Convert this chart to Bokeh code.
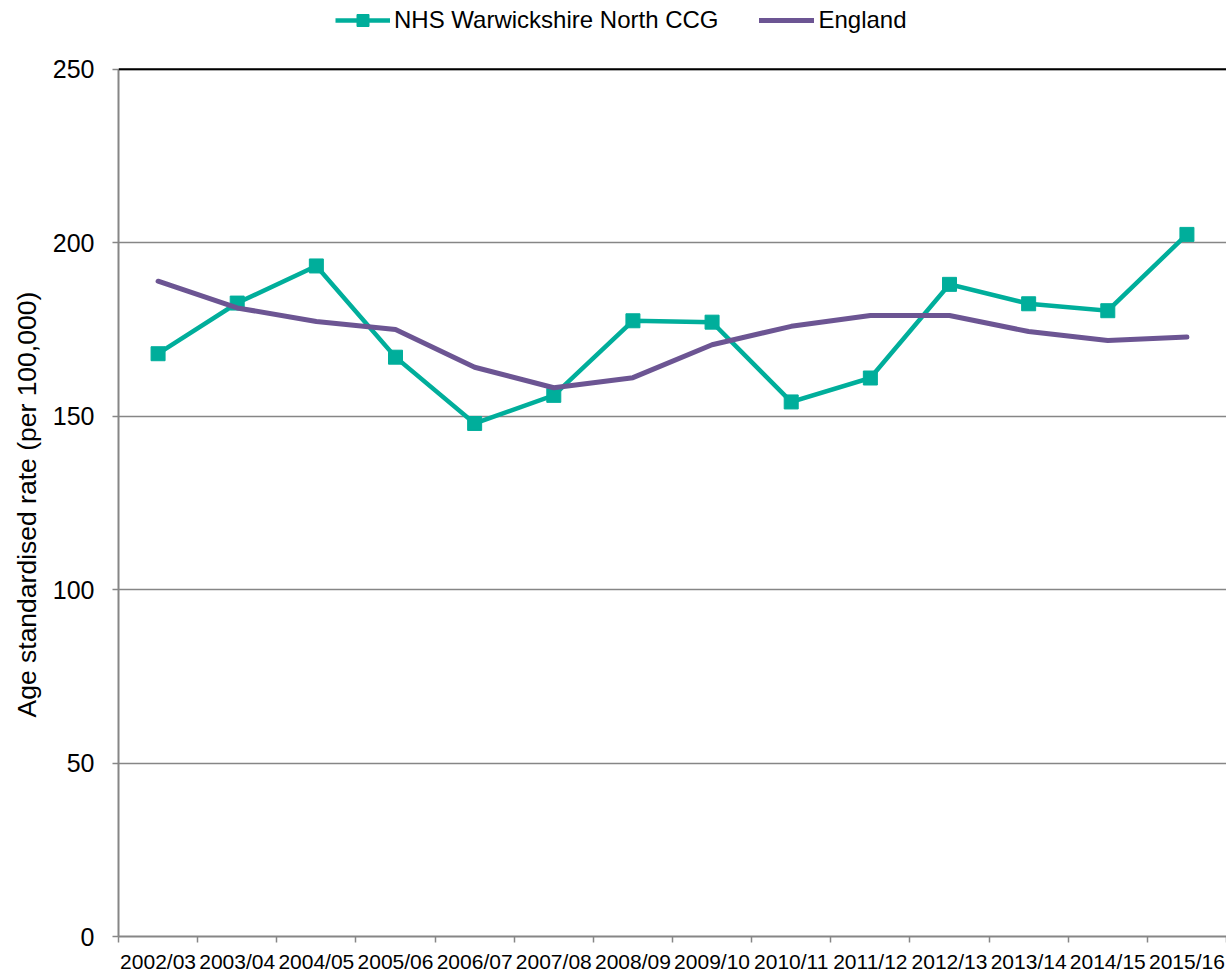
from bokeh.plotting import figure
from bokeh.models import Range1d, FixedTicker, Legend, LegendItem, Span, Title
from bokeh.embed import file_html
from bokeh.resources import INLINE

categories = ["2002/03", "2003/04", "2004/05", "2005/06", "2006/07", "2007/08", "2008/09",
              "2009/10", "2010/11", "2011/12", "2012/13", "2013/14", "2014/15", "2015/16"]
ccg = [168.0, 182.6, 193.3, 167.0, 147.9, 156.0, 177.5, 177.1, 154.1, 161.0, 188.0, 182.4, 180.4, 202.4]
england = [188.9, 181.2, 177.3, 175.0, 164.1, 158.2, 161.1, 170.6, 175.9, 179.0, 179.0, 174.4, 171.8, 172.8]
y_ticks = [0, 50, 100, 150, 200, 250]
y_title = "Age standardised rate (per 100,000)"

FONT = "Liberation Sans"
TEAL = "#00AE9B"
PURPLE = "#6C5593"
GRID = "#868686"

W, H = 1226, 975
TOP_PX, BOTTOM_PX = 69, 939  # screen rows of 250 and 0
n = len(categories)
xs = [i + 0.5 for i in range(n)]
y_max = 250.0 * BOTTOM_PX / (BOTTOM_PX - TOP_PX)  # frame extends to page top so legend fits

p = figure(width=W, height=H, output_backend="svg", toolbar_location=None,
           x_range=Range1d(0, n), y_range=Range1d(0, y_max),
           min_border_left=118, min_border_right=0, min_border_top=0, min_border_bottom=H - BOTTOM_PX)
p.outline_line_color = None
p.background_fill_color = "white"
p.border_fill_color = "white"

# grid
p.xgrid.visible = False
p.ygrid.ticker = FixedTicker(ticks=y_ticks)
p.ygrid.grid_line_color = GRID
p.ygrid.grid_line_width = 1.5

# x axis
xa = p.xaxis[0]
xa.ticker = FixedTicker(ticks=xs, minor_ticks=list(range(n + 1)))
xa.major_label_overrides = {x: c for x, c in zip(xs, categories)}
xa.major_tick_line_color = None
xa.major_tick_out = 0
xa.major_tick_in = 0
xa.minor_tick_line_color = GRID
xa.minor_tick_line_width = 1.5
xa.minor_tick_out = 6
xa.minor_tick_in = 0
xa.axis_line_color = GRID
xa.axis_line_width = 2
xa.major_label_text_font = FONT
xa.major_label_text_font_size = "21px"
xa.major_label_text_color = "black"
xa.major_label_standoff = 7

# y axis
ya = p.yaxis[0]
ya.ticker = FixedTicker(ticks=y_ticks)
ya.bounds = (0, 250)
ya.minor_tick_line_color = None
ya.major_tick_line_color = GRID
ya.major_tick_line_width = 1.5
ya.major_tick_out = 6
ya.major_tick_in = 0
ya.axis_line_color = GRID
ya.axis_line_width = 2
ya.major_label_text_font = FONT
ya.major_label_text_font_size = "25px"
ya.major_label_text_color = "black"
ya.major_label_standoff = 18

# y-axis title (centred on the 0-250 span rather than the whole frame)
p.add_layout(Title(text=y_title, align="left", offset=BOTTOM_PX - 720, vertical_align="bottom",
                   standoff=16, text_font=FONT, text_font_size="26.5px",
                   text_font_style="normal", text_color="black"), "left")

# top border line
p.add_layout(Span(location=250, dimension="width", line_color="black", line_width=2))

# series
r_ccg_line = p.line(xs, ccg, line_color=TEAL, line_width=4.5, line_join="miter")
r_ccg_pts = p.scatter(xs, ccg, marker="square", size=14, fill_color=TEAL, line_color=TEAL)
r_eng = p.line(xs, england, line_color=PURPLE, line_width=5, line_cap="round", line_join="round")

legend = Legend(items=[
    LegendItem(label="NHS Warwickshire North CCG", renderers=[r_ccg_line, r_ccg_pts]),
    LegendItem(label="England", renderers=[r_eng]),
], orientation="horizontal", location=(335 - 118, BOTTOM_PX - 38))
legend.padding = 0
legend.margin = 0
legend.spacing = 41
legend.glyph_width = 55
legend.glyph_height = 30
legend.label_height = 24
legend.label_standoff = 4
legend.label_text_font = FONT
legend.label_text_font_size = "24px"
legend.label_text_color = "black"
legend.border_line_color = None
legend.background_fill_alpha = 0
p.add_layout(legend)

open("out.html", "w").write(file_html(p, INLINE))
